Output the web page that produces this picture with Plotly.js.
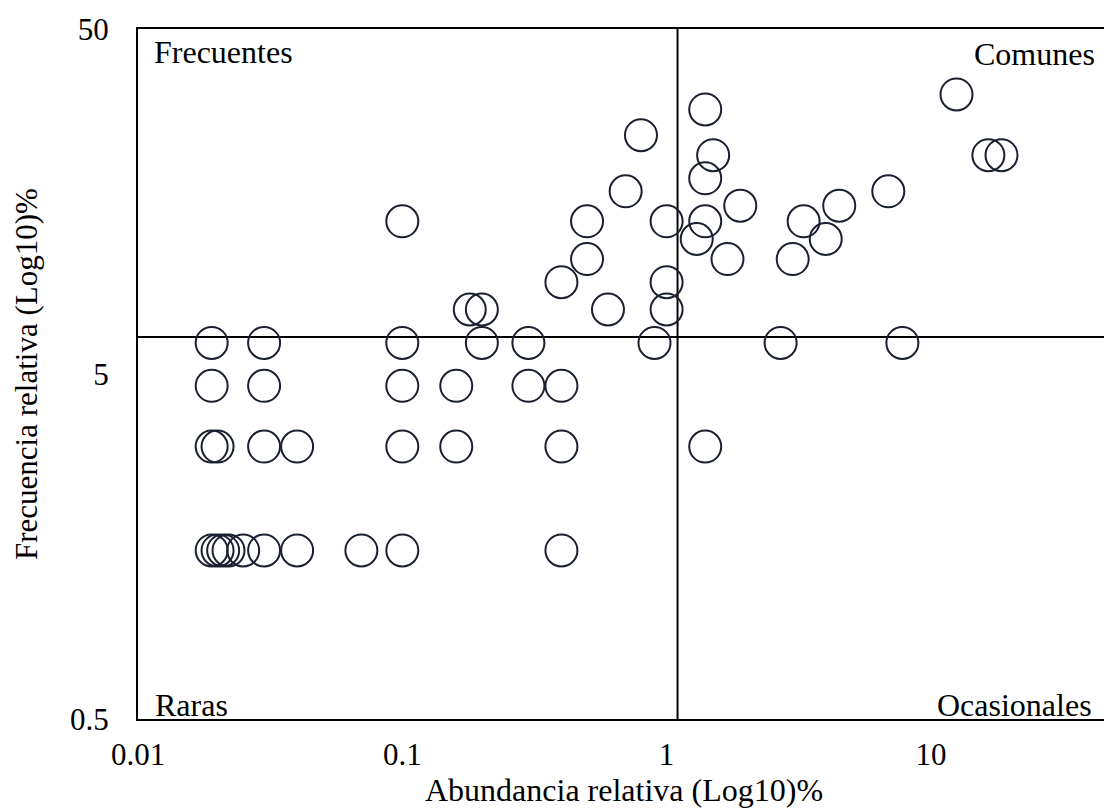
<!DOCTYPE html>
<html>
<head>
<meta charset="utf-8">
<script src="https://cdn.plot.ly/plotly-3.0.1.min.js"></script>
<style>
  html, body { margin: 0; padding: 0; background: #ffffff; }
  #chart { width: 1104px; height: 810px; }
</style>
</head>
<body>
<div id="chart"></div>
<script>
// Relative abundance (%) and relative frequency (%) of each species
const abundance = [
  12.5,
  1.4,
  0.8,
  1.5, 16.5, 18.5,
  1.4,
  0.7, 6.9,
  1.9, 4.5,
  0.1, 0.5, 1.0, 1.4, 3.3,
  1.3, 4.0,
  0.5, 1.7, 3.0,
  0.4, 1.0,
  0.18, 0.2, 0.6, 1.0,
  0.019, 0.03, 0.1, 0.2, 0.3, 0.9, 2.7, 7.8,
  0.019, 0.03, 0.1, 0.16, 0.3, 0.4,
  0.019, 0.02, 0.03, 0.04, 0.1, 0.16, 0.4, 1.4,
  0.019, 0.02, 0.021, 0.022, 0.025, 0.03, 0.04, 0.07, 0.1, 0.4
];
const frequency = [
  32.31,
  29.23,
  24.62,
  21.54, 21.54, 21.54,
  18.46,
  16.92, 16.92,
  15.38, 15.38,
  13.85, 13.85, 13.85, 13.85, 13.85,
  12.31, 12.31,
  10.77, 10.77, 10.77,
  9.23, 9.23,
  7.69, 7.69, 7.69, 7.69,
  6.15, 6.15, 6.15, 6.15, 6.15, 6.15, 6.15, 6.15,
  4.62, 4.62, 4.62, 4.62, 4.62, 4.62,
  3.08, 3.08, 3.08, 3.08, 3.08, 3.08, 3.08, 3.08,
  1.54, 1.54, 1.54, 1.54, 1.54, 1.54, 1.54, 1.54, 1.54, 1.54
];

// Quadrant division values
const abundanceCut = [1.1, 1.1];
const abundanceCutSpan = [0.5, 50];
const frequencyCut = [6.4, 6.4];
const frequencyCutSpan = [0.01, 100];

// Axis ticks
const xTickVals = [0.01, 0.1, 1, 10];
const xTickText = ["0.01", "0.1", "1", "10"];
const yTickVals = [0.5, 5, 50];
const yTickText = ["0.5", "5", "50"];

// Labels
const quadrantLabels = ["Frecuentes", "Comunes", "Raras", "Ocasionales"];
const xTitle = "Abundancia relativa (Log10)%";
const yTitle = "Frecuencia relativa (Log10)%";

const FONT = "Liberation Serif, 'Times New Roman', Times, serif";
const INK = "#1b2030";

const traces = [
  {
    type: "scatter", mode: "lines",
    x: abundanceCut, y: abundanceCutSpan,
    line: { color: "#000000", width: 2 },
    hoverinfo: "skip", showlegend: false
  },
  {
    type: "scatter", mode: "lines",
    x: frequencyCutSpan, y: frequencyCut,
    line: { color: "#000000", width: 2 },
    hoverinfo: "skip", showlegend: false
  },
  {
    type: "scatter", mode: "markers",
    x: abundance, y: frequency,
    marker: { symbol: "circle-open", size: 32, color: INK, line: { width: 2, color: INK } },
    cliponaxis: false,
    showlegend: false
  }
];

const plotW = 1104 - 138;
const decadeX = 264.3;
const xMaxLog = -2 + plotW / decadeX;

const layout = {
  width: 1104, height: 810,
  margin: { l: 138, r: 0, t: 29, b: 91, pad: 0 },
  paper_bgcolor: "#ffffff",
  plot_bgcolor: "#ffffff",
  font: { family: FONT, size: 30, color: "#000000" },
  showlegend: false,
  xaxis: {
    type: "log",
    range: [-2, xMaxLog],
    tickvals: xTickVals, ticktext: xTickText,
    ticks: "", ticklabelstandoff: 7,
    tickfont: { family: FONT, size: 31, color: "#000000" },
    showline: true, linecolor: "#000000", linewidth: 2, mirror: true,
    showgrid: false, zeroline: false
  },
  yaxis: {
    type: "log",
    range: [Math.log10(0.5), Math.log10(50)],
    tickvals: yTickVals, ticktext: yTickText,
    ticks: "", ticklabelstandoff: 21,
    tickfont: { family: FONT, size: 31, color: "#000000" },
    showline: true, linecolor: "#000000", linewidth: 2, mirror: false,
    showgrid: false, zeroline: false
  },
  annotations: [
    { text: quadrantLabels[0], xref: "paper", yref: "paper", x: 0, y: 1, xanchor: "left", yanchor: "top",
      xshift: 14, yshift: -3, showarrow: false, font: { family: FONT, size: 32, color: "#000000" } },
    { text: quadrantLabels[1], xref: "paper", yref: "paper", x: 1, y: 1, xanchor: "right", yanchor: "top",
      xshift: -7, yshift: -5, showarrow: false, font: { family: FONT, size: 32, color: "#000000" } },
    { text: quadrantLabels[2], xref: "paper", yref: "paper", x: 0, y: 0, xanchor: "left", yanchor: "bottom",
      xshift: 15, yshift: -6, showarrow: false, font: { family: FONT, size: 32, color: "#000000" } },
    { text: quadrantLabels[3], xref: "paper", yref: "paper", x: 1, y: 0, xanchor: "right", yanchor: "bottom",
      xshift: -10, yshift: -6, showarrow: false, font: { family: FONT, size: 32, color: "#000000" } },
    { text: xTitle, xref: "paper", yref: "paper", x: (624 - 138) / plotW, y: (719 - 790) / 690,
      xanchor: "center", yanchor: "middle", showarrow: false, font: { family: FONT, size: 32, color: "#000000" } },
    { text: yTitle, xref: "paper", yref: "paper", x: (26 - 138) / plotW, y: 0.5, textangle: -90,
      xanchor: "center", yanchor: "middle", showarrow: false, font: { family: FONT, size: 31, color: "#000000" } }
  ]
};

Plotly.newPlot("chart", traces, layout, { displayModeBar: false, staticPlot: true });
</script>
</body>
</html>
